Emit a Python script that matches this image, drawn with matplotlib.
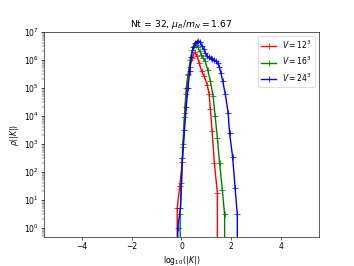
import matplotlib
matplotlib.use('Agg')
import matplotlib.pyplot as plt

# log10(|K|) positions and rho(|K|) counts for each volume
x_12 = [-0.26, -0.17, -0.07, 0.03, 0.08, 0.13, 0.19, 0.26, 0.33, 0.44, 0.53,
        0.63, 0.71, 0.81, 0.91, 1.03, 1.11, 1.16, 1.23, 1.32, 1.44, 1.53]
y_12 = [0, 5, 30, 220, 1.0e3, 1.3e4, 1.0e5, 2.8e5, 5.4e5, 1.2e6, 1.9e6,
        1.35e6, 7.8e5, 3.9e5, 2.6e5, 1.3e5, 6.0e4, 1.7e4, 2.8e3, 200, 18, 0]

x_16 = [-0.13, -0.05, 0.0, 0.05, 0.12, 0.19, 0.27, 0.35, 0.43, 0.50, 0.58,
        0.66, 0.74, 0.80, 0.88, 0.95, 1.05, 1.16, 1.27, 1.35, 1.44, 1.53,
        1.64, 1.73, 1.82]
y_16 = [0, 3, 40, 8.0e2, 9.0e3, 6.0e4, 3.0e5, 1.0e6, 2.2e6, 3.0e6, 3.3e6,
        2.8e6, 2.0e6, 1.5e6, 1.15e6, 9.0e5, 4.5e5, 1.7e5, 5.0e4, 1.0e4,
        1.6e3, 200, 22, 3, 0]

x_24 = [-0.24, -0.15, -0.04, 0.04, 0.12, 0.19, 0.26, 0.33, 0.40, 0.47, 0.54,
        0.61, 0.68, 0.75, 0.82, 0.89, 0.96, 1.03, 1.10, 1.17, 1.24, 1.31,
        1.38, 1.45, 1.52, 1.58, 1.65, 1.76, 1.87, 1.93, 2.05, 2.15, 2.24, 2.33]
y_24 = [0, 1, 5, 3.0e2, 3.0e3, 2.0e4, 1.0e5, 4.0e5, 1.3e6, 2.8e6, 4.0e6,
        4.5e6, 4.8e6, 4.2e6, 3.2e6, 2.4e6, 1.8e6, 1.4e6, 1.25e6, 1.15e6,
        1.05e6, 9.5e5, 9.0e5, 7.5e5, 5.5e5, 3.5e5, 1.8e5, 5.8e4, 1.3e4,
        2.4e3, 3.5e2, 27, 3, 0]

labels = [r'$V = 12^3$', r'$V = 16^3$', r'$V = 24^3$']


def plot_rho():
    plt.figure(figsize=(6.4, 4.81), dpi=55.32)
    plt.plot(x_12, y_12, color='red', marker='+', lw=1.8, ms=7, label=labels[0])
    plt.plot(x_16, y_16, color='green', marker='+', lw=1.8, ms=7, label=labels[1])
    plt.plot(x_24, y_24, color='blue', marker='+', lw=1.8, ms=7, label=labels[2])
    plt.yscale('log', nonpositive='clip')
    plt.xlim(-5.5, 5.5)
    plt.ylim(0.48, 1e7)
    plt.xlabel(r'$\log_{10}(|K|)$')
    plt.ylabel(r'$\rho(|K|)$')
    plt.title(r'Nt = 32, $\mu_B/m_N = 1.67$')
    plt.legend(loc='upper right')
    plt.savefig('out.png', dpi=55.32)
    return


plot_rho()
